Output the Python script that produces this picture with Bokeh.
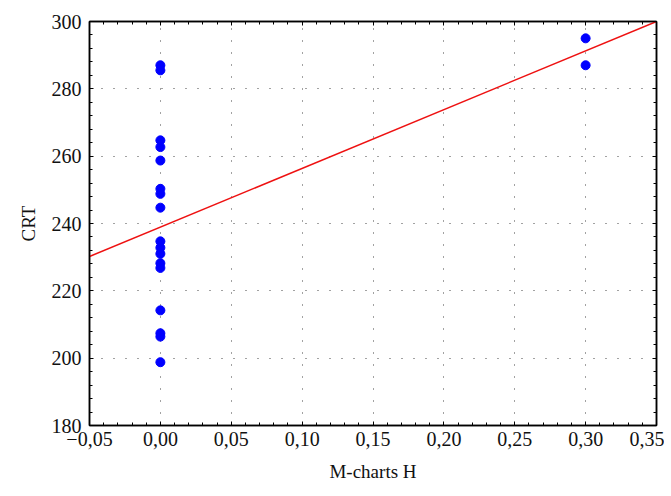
import numpy as np
from bokeh.plotting import figure
from bokeh.models import LinearAxis, FixedTicker, CustomJSTickFormatter, Range1d, ColumnDataSource
from bokeh.embed import file_html
from bokeh.resources import INLINE

# Data
x_vals = [0.0] * 17 + [0.30, 0.30]
crt_vals = [287.0, 285.5, 264.7, 262.7, 258.7, 250.3, 248.8, 244.7, 234.7, 232.8,
            231.0, 228.2, 226.8, 214.2, 207.4, 206.4, 198.8,
            295.0, 287.0]
fit_x = [-0.05, 0.35]
fit_y = [230.2, 300.0]

x_ticks = [-0.05, 0.0, 0.05, 0.10, 0.15, 0.20, 0.25, 0.30, 0.35]
y_ticks = [180, 200, 220, 240, 260, 280, 300]
x_minor = [round(-0.05 + 0.01 * i, 2) for i in range(41)]
y_minor = [180 + 4 * i for i in range(31)]

FONT = "Liberation Serif"

W, H = 664, 488
p = figure(width=W, height=H, output_backend="svg", toolbar_location=None,
           x_range=Range1d(-0.05, 0.35), y_range=Range1d(180, 300),
           x_axis_label="M-charts H", y_axis_label="CRT",
           min_border_left=89, min_border_top=21, min_border_right=8, min_border_bottom=63)

p.outline_line_color = "black"
p.outline_line_width = 1.5
p.background_fill_color = "white"
p.border_fill_color = "white"

xt = FixedTicker(ticks=x_ticks, minor_ticks=x_minor)
yt = FixedTicker(ticks=y_ticks, minor_ticks=y_minor)

fmt = CustomJSTickFormatter(code="""
    var s = Math.abs(tick).toFixed(2).replace('.', ',');
    return (tick < -1e-9 ? '\\u2212' : '') + s;
""")
blank = CustomJSTickFormatter(code="return '';")

def style_axis(ax, ticker, labels=True):
    ax.ticker = ticker
    ax.axis_line_color = "black"
    ax.axis_line_width = 1.5
    ax.major_tick_in = 4
    ax.major_tick_out = 0
    ax.minor_tick_in = 3
    ax.minor_tick_out = 0
    ax.major_tick_line_color = "black"
    ax.minor_tick_line_color = "black"
    ax.major_label_text_font = FONT
    ax.major_label_text_color = "#111111"
    ax.axis_label_text_font = FONT
    ax.axis_label_text_font_style = "normal"
    ax.axis_label_text_font_size = "19px"
    ax.axis_label_text_color = "#111111"
    ax.major_label_text_font_size = "20px"
    if not labels:
        ax.formatter = blank
        ax.major_label_standoff = 0

style_axis(p.xaxis[0], xt)
p.xaxis[0].formatter = fmt
p.xaxis[0].major_label_standoff = 6
p.xaxis[0].axis_label_standoff = 12
style_axis(p.yaxis[0], yt)
p.yaxis[0].major_label_standoff = 8
p.yaxis[0].axis_label_standoff = 10

top = LinearAxis()
style_axis(top, xt, labels=False)
right = LinearAxis()
style_axis(right, yt, labels=False)
p.add_layout(top, "above")
p.add_layout(right, "right")

for g, t in ((p.xgrid[0], xt), (p.ygrid[0], yt)):
    g.ticker = t
    g.grid_line_color = "#444444"
    g.grid_line_width = 1
    g.grid_line_dash = "1 11"

src = ColumnDataSource(dict(x=x_vals, y=crt_vals))
p.scatter("x", "y", source=src, size=9, color="#0000ff", line_color="#0000ff")
p.line(fit_x, fit_y, line_color="#ee1111", line_width=1.5)

open("out.html", "w").write(file_html(p, INLINE))
